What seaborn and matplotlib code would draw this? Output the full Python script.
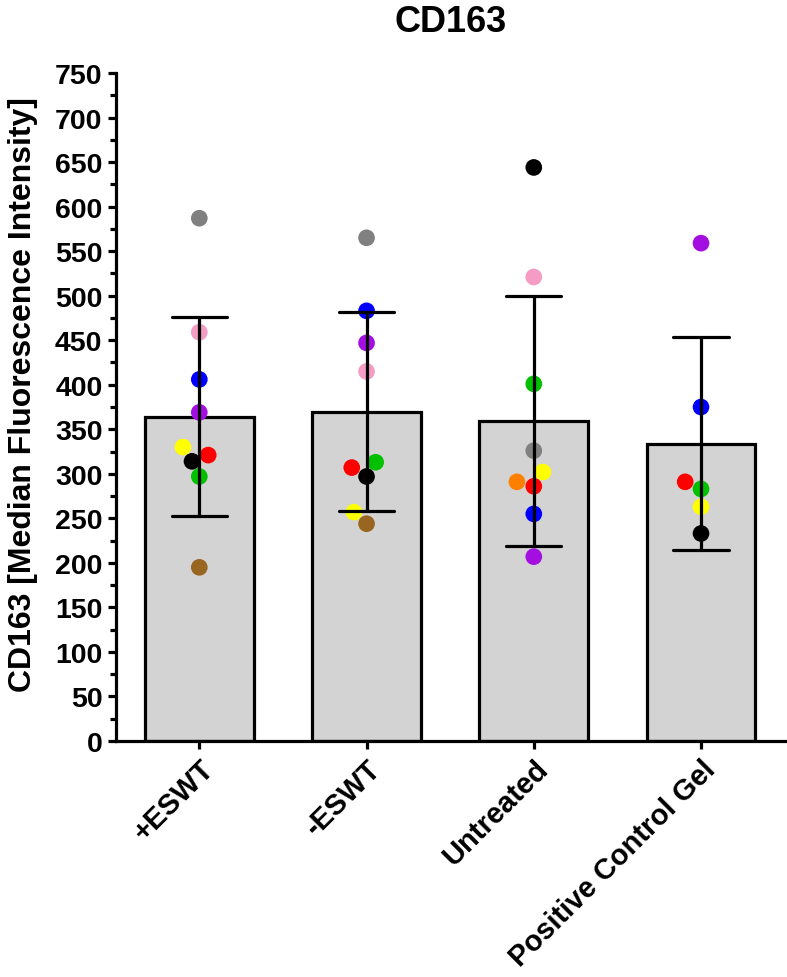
import seaborn as sns
import matplotlib.pyplot as plt
import pandas as pd
from matplotlib.ticker import MultipleLocator

groups = ["+ESWT", "-ESWT", "Untreated", "Positive Control Gel"]

# donor colours, same donor keeps the same colour across groups
GRAY, PINK, BLUE, PURPLE = "#808080", "#F59CC4", "#0000FF", "#A30FE0"
YELLOW, RED, BLACK, GREEN = "#FFFF00", "#FF0000", "#000000", "#00C000"
BROWN, ORANGE = "#996622", "#FF8000"

eswt_pos = [587, 459, 406, 369, 330, 321, 314, 297, 195]
eswt_pos_col = [GRAY, PINK, BLUE, PURPLE, YELLOW, RED, BLACK, GREEN, BROWN]
eswt_neg = [565, 483, 447, 415, 313, 307, 297, 257, 244]
eswt_neg_col = [GRAY, BLUE, PURPLE, PINK, GREEN, RED, BLACK, YELLOW, BROWN]
untreated = [644, 521, 401, 326, 302, 291, 286, 255, 207]
untreated_col = [BLACK, PINK, GREEN, GRAY, YELLOW, ORANGE, RED, BLUE, PURPLE]
pos_ctrl = [559, 375, 291, 283, 263, 233]
pos_ctrl_col = [PURPLE, BLUE, RED, GREEN, YELLOW, BLACK]

rows = []
for g, vals, cols in zip(groups,
                         [eswt_pos, eswt_neg, untreated, pos_ctrl],
                         [eswt_pos_col, eswt_neg_col, untreated_col, pos_ctrl_col]):
    for v, c in zip(vals, cols):
        rows.append({"group": g, "mfi": v, "donor": c})
df = pd.DataFrame(rows)

sns.set_style("ticks", {"axes.edgecolor": "black", "text.color": "black",
                        "axes.labelcolor": "black", "xtick.color": "black",
                        "ytick.color": "black"})
plt.rcParams["font.family"] = ["Liberation Sans", "DejaVu Sans"]
plt.rcParams["font.weight"] = "bold"

fig = plt.figure(figsize=(7.87, 9.78), dpi=100)
ax = fig.add_axes([0.147, 0.2413, 0.85, 0.683])

# bar = mean, error bar = SD
sns.barplot(data=df, x="group", y="mfi", order=groups, errorbar="sd",
            width=0.65, color="#D3D3D3", saturation=1, edgecolor="black",
            linewidth=2.3, capsize=0.33,
            err_kws={"color": "black", "linewidth": 2.3}, ax=ax)
for ln in ax.lines:
    ln.set_zorder(5)

sns.swarmplot(data=df, x="group", y="mfi", order=groups, hue="donor",
              palette={c: c for c in df["donor"].unique()}, size=12,
              legend=False, zorder=4, ax=ax)

ax.set_ylim(0, 750)
ax.set_xlim(-0.5, 3.5)
ax.yaxis.set_major_locator(MultipleLocator(50))
ax.yaxis.set_minor_locator(MultipleLocator(25))
sns.despine(ax=ax)
for s in ["left", "bottom"]:
    ax.spines[s].set_linewidth(2.3)
ax.tick_params(axis="both", which="major", width=2.3, length=6)
ax.tick_params(axis="y", which="minor", width=2.3, length=4)
ax.tick_params(axis="y", labelsize=20.5)
ax.tick_params(axis="x", labelsize=21)
plt.setp(ax.get_xticklabels(), rotation=45, ha="right",
         rotation_mode="anchor", fontweight="bold")
plt.setp(ax.get_yticklabels(), fontweight="bold")

ax.set_xlabel("")
ax.set_ylabel("CD163 [Median Fluorescence Intensity]", fontsize=23,
              fontweight="bold", labelpad=12)
ax.yaxis.label.set_y(0.52)
ax.set_title("CD163", fontsize=26, fontweight="bold", pad=30)

fig.savefig("out.png", dpi=100)
